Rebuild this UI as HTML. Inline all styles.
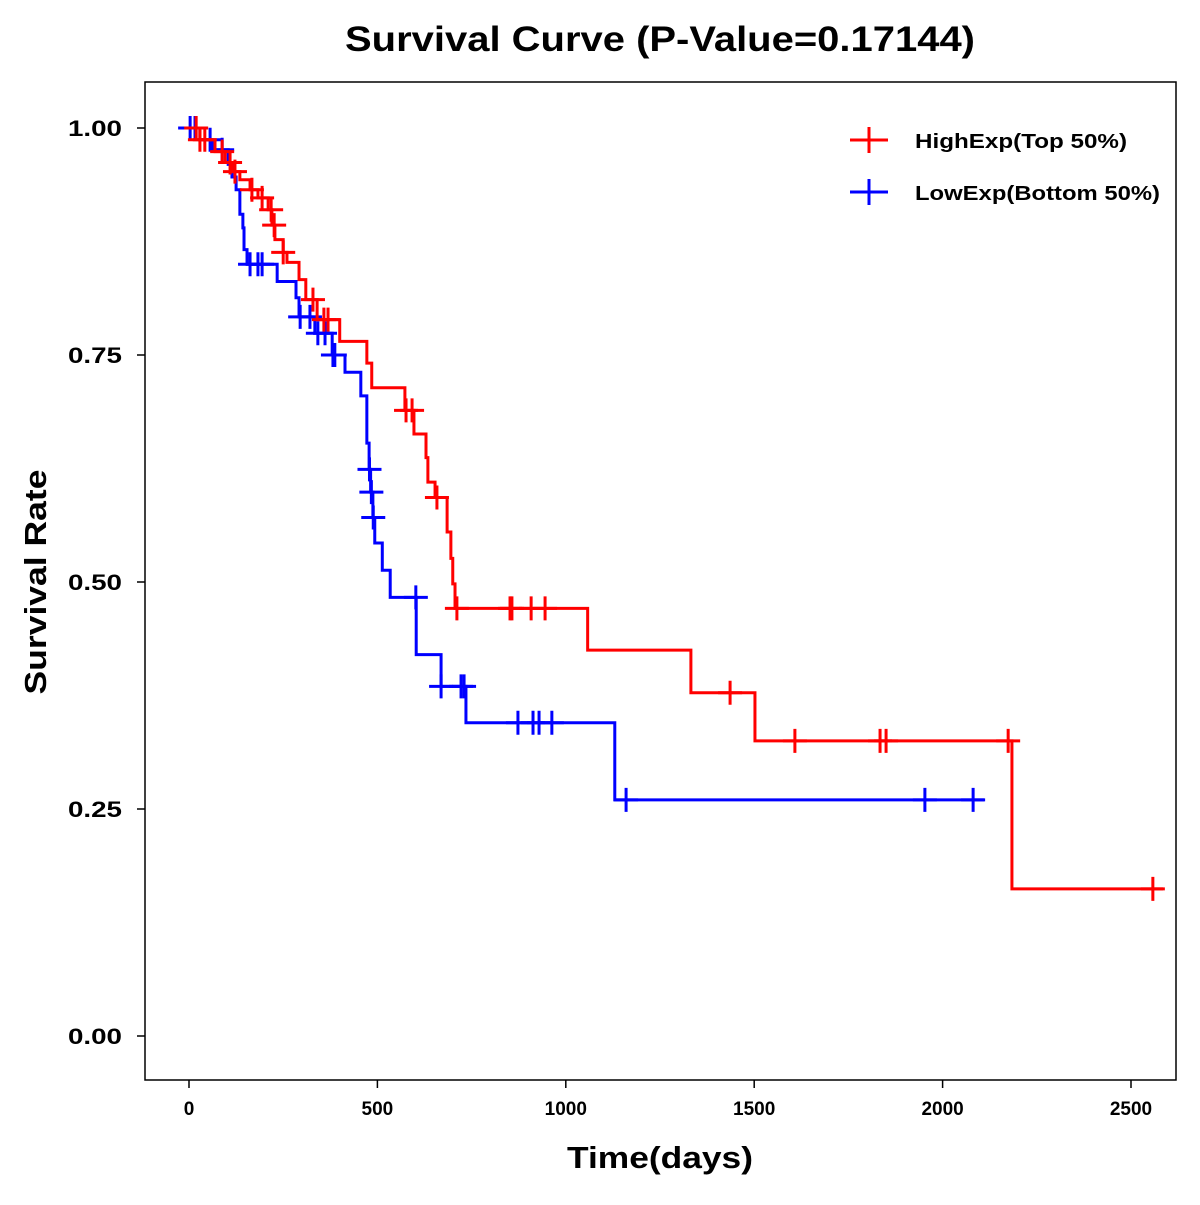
<!DOCTYPE html>
<html><head><meta charset="utf-8"><style>
body{margin:0;background:#fff}
svg text{font-family:"Liberation Sans",Arial,sans-serif;font-weight:bold}
</style></head><body>
<svg id="chart" width="1200" height="1200" xmlns="http://www.w3.org/2000/svg">
<rect width="1200" height="1200" fill="#fff"/>
<text x="345" y="51" font-size="35" textLength="630" lengthAdjust="spacingAndGlyphs">Survival Curve (P-Value=0.17144)</text>
<rect x="145" y="82" width="1031" height="998" fill="none" stroke="#000" stroke-width="1.5"/>
<g id="axes"></g>
<g id="series"></g>
<text x="567" y="1168" font-size="31" textLength="186" lengthAdjust="spacingAndGlyphs">Time(days)</text>
<text x="46" y="582" font-size="31" text-anchor="middle" textLength="225" lengthAdjust="spacingAndGlyphs" transform="rotate(-90 46 582)">Survival Rate</text>
<g>
<line x1="850" y1="140" x2="888" y2="140" stroke="#f00" stroke-width="3"/><line x1="869" y1="127" x2="869" y2="153" stroke="#f00" stroke-width="3"/>
<text x="915" y="148" font-size="20" textLength="212" lengthAdjust="spacingAndGlyphs">HighExp(Top 50%)</text>
<line x1="850" y1="192" x2="888" y2="192" stroke="#00f" stroke-width="3"/><line x1="869" y1="179" x2="869" y2="205" stroke="#00f" stroke-width="3"/>
<text x="915" y="200" font-size="20" textLength="245" lengthAdjust="spacingAndGlyphs">LowExp(Bottom 50%)</text>
</g>
</svg>
<script>
const xTicks=[0,500,1000,1500,2000,2500];
const yTicks=[0,0.25,0.5,0.75,1.0];
const yTickLabels=["0.00","0.25","0.50","0.75","1.00"];
const highTimes=[0,29,69,96,114,135,162,183,210,220,228,250,260,292,310,340,400,472,485,573,597,629,634,653,685,695,700,706,1058,1332,1502,2184];
const highSurv=[1.0,0.987,0.974,0.962,0.952,0.943,0.932,0.923,0.910,0.893,0.877,0.863,0.852,0.833,0.811,0.789,0.765,0.741,0.714,0.689,0.663,0.637,0.610,0.593,0.555,0.526,0.498,0.471,0.425,0.378,0.325,0.162];
const highEnd=2585;
const highCensor=[19,29,42,88,109,122,167,194,218,226,250,329,358,369,576,592,658,711,852,857,908,945,1436,1608,1834,1850,2174,2558];
const lowTimes=[0,29,61,104,114,125,135,143,146,154,234,284,292,334,380,414,456,472,478,482,488,493,513,534,603,669,735,1130];
const lowSurv=[1.0,0.987,0.976,0.960,0.946,0.932,0.905,0.890,0.866,0.850,0.831,0.813,0.792,0.774,0.750,0.731,0.705,0.653,0.624,0.599,0.571,0.543,0.513,0.483,0.420,0.385,0.345,0.260];
const lowEnd=2110;
const lowCensor=[3,16,56,88,162,183,194,295,321,342,361,382,387,479,484,489,602,669,722,730,873,913,929,963,1160,1953,2081];

const X=t=>189+t*(1131-189)/2500;
const Y=s=>1036-s*908;
const NS="http://www.w3.org/2000/svg";
function mk(tag,attrs,parent){const e=document.createElementNS(NS,tag);for(const k in attrs)e.setAttribute(k,attrs[k]);parent.appendChild(e);return e;}
const axes=document.getElementById('axes');
xTicks.forEach(t=>{
  const l=mk('line',{x1:X(t),x2:X(t),y1:1080,y2:1088,stroke:'#000','stroke-width':1.5},axes);
  
  
  const tx=mk('text',{x:X(t),y:1115,'font-size':19,'text-anchor':'middle'},axes);tx.textContent=t;
  
  
});
yTicks.forEach((v,i)=>{
  const l=mk('line',{x1:137,x2:145,y1:Y(v),y2:Y(v),stroke:'#000','stroke-width':1.5},axes);
  
  
  const tx=mk('text',{x:68,y:Y(v)+8,'font-size':22,textLength:54,lengthAdjust:'spacingAndGlyphs'},axes);tx.textContent=yTickLabels[i];
  
  
});
const series=document.getElementById('series');
function survAt(times,surv,t){let s=surv[0];for(let i=0;i<times.length;i++){if(times[i]<=t)s=surv[i];}return s;}
function draw(times,surv,end,cens,color,name){
  let d=`M${X(times[0])},${Y(surv[0])}`;
  for(let i=1;i<times.length;i++){d+=`H${X(times[i])}V${Y(surv[i])}`;}
  d+=`H${X(end)}`;
  const p=mk('path',{d:d,fill:'none',stroke:color,'stroke-width':3},series);
  
  
  cens.forEach(t=>{
    const x=X(t),y=Y(survAt(times,surv,t));
    const m=mk('path',{d:`M${x-12},${y}H${x+12}M${x},${y-12}V${y+12}`,stroke:color,'stroke-width':3,fill:'none'},series);
    
    
  });
}
draw(lowTimes,lowSurv,lowEnd,lowCensor,'#00f','low-exp');
draw(highTimes,highSurv,highEnd,highCensor,'#f00','high-exp');
</script>
</body></html>
